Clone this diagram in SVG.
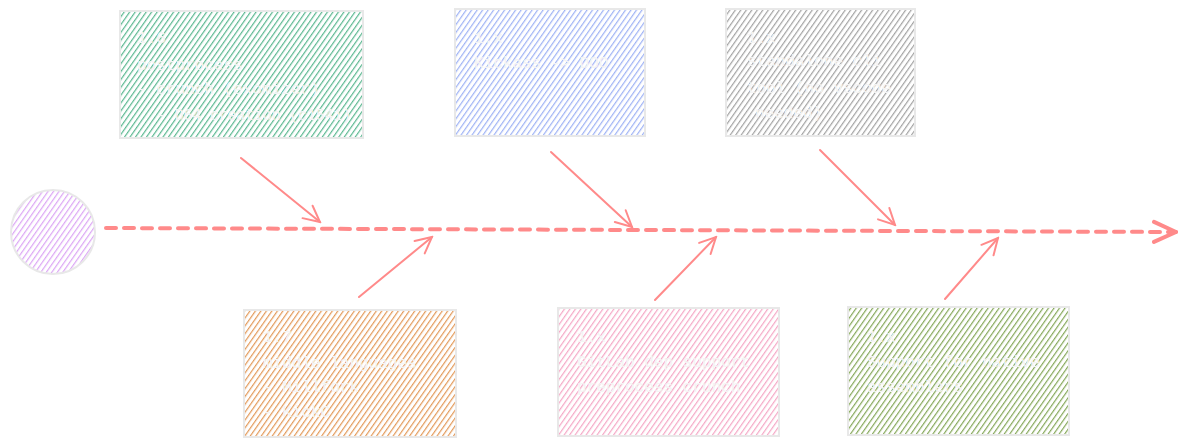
<svg xmlns="http://www.w3.org/2000/svg" width="1188" height="447" viewBox="0 0 1188 447">
<defs>
<pattern id="hG" width="4.5" height="4.5" patternUnits="userSpaceOnUse" patternTransform="rotate(35)"><rect width="4.5" height="4.5" fill="#ffffff"/><line x1="0" y1="0" x2="0" y2="4.5" stroke="#5cb891" stroke-width="2.4"/></pattern>
<pattern id="hB" width="4.5" height="4.5" patternUnits="userSpaceOnUse" patternTransform="rotate(35)"><rect width="4.5" height="4.5" fill="#ffffff"/><line x1="0" y1="0" x2="0" y2="4.5" stroke="#9fb3f5" stroke-width="2.4"/></pattern>
<pattern id="hK" width="4.5" height="4.5" patternUnits="userSpaceOnUse" patternTransform="rotate(35)"><rect width="4.5" height="4.5" fill="#ffffff"/><line x1="0" y1="0" x2="0" y2="4.5" stroke="#a3a3a3" stroke-width="2.4"/></pattern>
<pattern id="hO" width="4.5" height="4.5" patternUnits="userSpaceOnUse" patternTransform="rotate(35)"><rect width="4.5" height="4.5" fill="#ffffff"/><line x1="0" y1="0" x2="0" y2="4.5" stroke="#e39a5a" stroke-width="2.4"/></pattern>
<pattern id="hP" width="4.5" height="4.5" patternUnits="userSpaceOnUse" patternTransform="rotate(35)"><rect width="4.5" height="4.5" fill="#ffffff"/><line x1="0" y1="0" x2="0" y2="4.5" stroke="#f5a8c6" stroke-width="2.4"/></pattern>
<pattern id="hL" width="4.5" height="4.5" patternUnits="userSpaceOnUse" patternTransform="rotate(35)"><rect width="4.5" height="4.5" fill="#ffffff"/><line x1="0" y1="0" x2="0" y2="4.5" stroke="#86a85a" stroke-width="2.4"/></pattern>
<pattern id="hV" width="4.5" height="4.5" patternUnits="userSpaceOnUse" patternTransform="rotate(35)"><rect width="4.5" height="4.5" fill="#ffffff"/><line x1="0" y1="0" x2="0" y2="4.5" stroke="#dca6f5" stroke-width="2.4"/></pattern>
<marker id="ah" viewBox="0 0 20 20" refX="18" refY="10" markerWidth="20" markerHeight="20" markerUnits="userSpaceOnUse" orient="auto"><path d="M2,2 L18,10 L2,18" fill="none" stroke="#ff8a8a" stroke-width="2" stroke-linecap="round"/></marker>
<marker id="ahBig" viewBox="0 0 26 26" refX="24" refY="13" markerWidth="26" markerHeight="26" markerUnits="userSpaceOnUse" orient="auto"><path d="M2,3 L24,13 L2,23" fill="none" stroke="#ff8a8a" stroke-width="4" stroke-linecap="round" stroke-linejoin="round"/></marker>
</defs>
<style>
.box{stroke:#e8e8e8;stroke-width:2}
.t{font-family:"Liberation Mono",monospace;font-size:16px;fill:#f4f4f4}
.c{fill:none;stroke:#ff8a8a;stroke-width:2;stroke-linecap:round}
</style>
<g id="connectors">
<line x1="106" y1="228" x2="1176" y2="232" stroke="#ff8a8a" stroke-width="4" stroke-dasharray="10 8" stroke-linecap="round" marker-end="url(#ahBig)"/>
<line class="c" x1="241" y1="158" x2="320" y2="222" marker-end="url(#ah)"/>
<line class="c" x1="551" y1="152" x2="632" y2="227" marker-end="url(#ah)"/>
<line class="c" x1="820" y1="150" x2="895" y2="225" marker-end="url(#ah)"/>
<line class="c" x1="359" y1="297" x2="432" y2="237" marker-end="url(#ah)"/>
<line class="c" x1="655" y1="300" x2="716" y2="237" marker-end="url(#ah)"/>
<line class="c" x1="945" y1="299" x2="998" y2="238" marker-end="url(#ah)"/>
</g>
<g id="start">
<circle cx="53" cy="232" r="42" fill="url(#hV)" class="box"/>
</g>
<g id="n1">
<rect x="120" y="11" width="243" height="127" fill="url(#hG)" class="box"/>
<text class="t" x="137" y="43">1.6</text>
<text class="t" x="137" y="70">postprocess</text>
<text class="t" x="137" y="94">- crunch (exomizer)</text>
<text class="t" x="157" y="120" textLength="194" lengthAdjust="spacingAndGlyphs">- D64 creation (c1541)</text>
</g>
<g id="n2">
<rect x="455" y="9" width="190" height="127" fill="url(#hB)" class="box"/>
<text class="t" x="474" y="43">1.x</text>
<text class="t" x="474" y="68">Kickass -&gt; DOO</text>
</g>
<g id="n3">
<rect x="726" y="9" width="189" height="127" fill="url(#hK)" class="box"/>
<text class="t" x="747" y="43">1.x</text>
<text class="t" x="747" y="66">standalone cli</text>
<text class="t" x="747" y="93">tool (no vscode</text>
<text class="t" x="755" y="118">needed)</text>
</g>
<g id="n4">
<rect x="244" y="310" width="212" height="127" fill="url(#hO)" class="box"/>
<text class="t" x="263" y="342">1.7</text>
<text class="t" x="263" y="368">middle languages</text>
<text class="t" x="263" y="392">- Millfork</text>
<text class="t" x="263" y="417">- KickC</text>
</g>
<g id="n5">
<rect x="558" y="308" width="221" height="128" fill="url(#hP)" class="box"/>
<text class="t" x="577" y="342">1.x</text>
<text class="t" x="577" y="367">GitLab dep support</text>
<text class="t" x="577" y="392">preprocess crunch</text>
</g>
<g id="n6">
<rect x="848" y="307" width="221" height="128" fill="url(#hL)" class="box"/>
<text class="t" x="867" y="342">1.x</text>
<text class="t" x="867" y="367">Support for native</text>
<text class="t" x="867" y="392">assemblers</text>
</g>
</svg>
